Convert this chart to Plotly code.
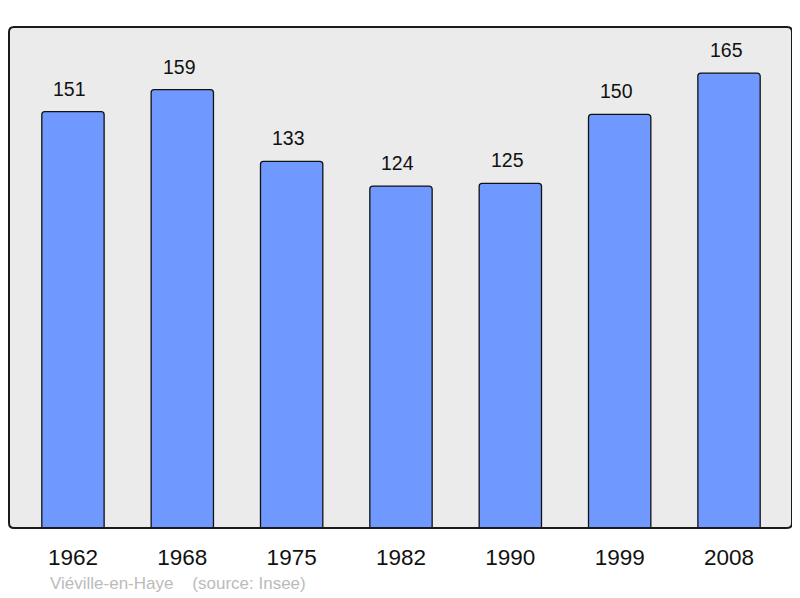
import plotly.graph_objects as go

years = ["1962", "1968", "1975", "1982", "1990", "1999", "2008"]
population = [151, 159, 133, 124, 125, 150, 165]
footer_text = "Viéville-en-Haye&nbsp;&nbsp;&nbsp;&nbsp;(source: Insee)"

# page body has an 8px margin: compensate so plot area lands at x 9..792, y 27..528
OFF = 8
W, H = 800 - OFF, 598 - OFF
L, R, T, B = 9 - OFF, 8, 27 - OFF, 70

FONT = "Liberation Sans, Arial, sans-serif"

fig = go.Figure()
fig.add_trace(go.Bar(
    x=list(range(len(years))), y=population,
    width=0.57,
    marker=dict(color="#7099ff", line=dict(color="#111111", width=1.3), cornerradius=3),
    hoverinfo="skip",
))

for i, v in enumerate(population):
    fig.add_annotation(x=i, y=v, text=str(v), showarrow=False,
                       yanchor="bottom", yshift=10, xshift=-3,
                       font=dict(family=FONT, size=19.5, color="#111111"))

fig.add_annotation(xref="paper", yref="paper", x=(48 - 9) / (W - L - R), y=-(583 - 528) / (H - T - B),
                   xanchor="left", yanchor="middle", showarrow=False, text=footer_text,
                   font=dict(family=FONT, size=17, color="#bbbbbb"))

# rounded frame around plot area (paper coords)
pw, ph = W - L - R, H - T - B
rx, ry = 5 / pw, 5 / ph
frame = (f"M {rx},0 L {1-rx},0 Q 1,0 1,{ry} L 1,{1-ry} Q 1,1 {1-rx},1 "
         f"L {rx},1 Q 0,1 0,{1-ry} L 0,{ry} Q 0,0 {rx},0 Z")
fig.add_shape(type="path", xref="paper", yref="paper", path=frame,
              line=dict(color="#1a1a1a", width=2), layer="above")

fig.update_layout(
    width=W, height=H,
    margin=dict(l=L, r=R, t=T, b=B),
    paper_bgcolor="white", plot_bgcolor="#ebebeb",
    showlegend=False,
    xaxis=dict(range=[-0.585, 6.576], tickmode="array", tickvals=list(range(len(years))),
               ticktext=years, showgrid=False, zeroline=False, showline=False,
               ticks="", ticklabelstandoff=13,
               tickfont=dict(family=FONT, size=22.5, color="#111111")),
    yaxis=dict(range=[0, 181.7], showgrid=False, zeroline=False, showticklabels=False,
               showline=False, ticks=""),
)

fig.write_html("out.html")
